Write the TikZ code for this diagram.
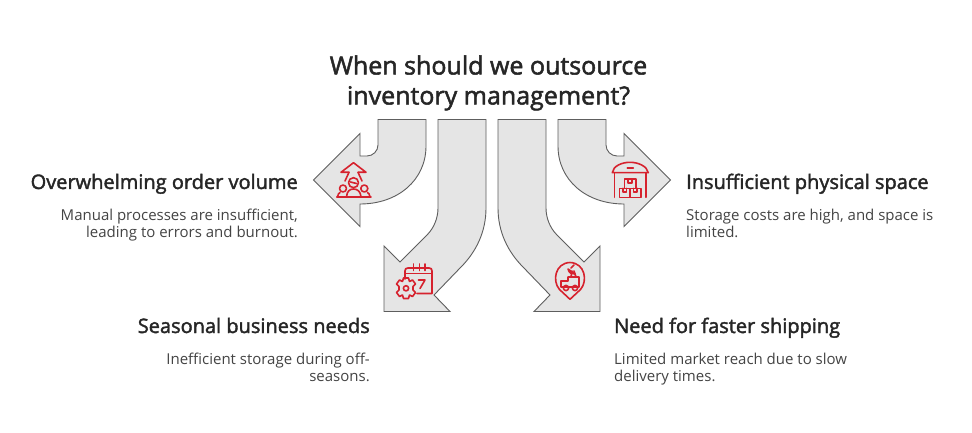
\documentclass[tikz,border=0pt]{standalone}
\usepackage{fontspec}
\setmainfont{Open Sans}
\newfontfamily\headfont[FakeBold=2]{Open Sans}
\definecolor{arrowfill}{HTML}{E5E5E5}
\definecolor{arrowline}{HTML}{5E5E5E}
\definecolor{iconred}{HTML}{D6222E}
\definecolor{headcol}{HTML}{262626}
\definecolor{bodycol}{HTML}{444444}
\tikzset{
  bigarrow/.style={fill=arrowfill,draw=arrowline,line width=0.9pt,line join=miter},
  icon/.style={draw=iconred,line width=1.6pt,line cap=round,line join=round},
  maintitle/.style={font=\headfont\fontsize{25}{30}\selectfont,text=headcol,align=center,inner sep=0pt},
  headl/.style={font=\headfont\fontsize{20}{24}\selectfont,text=headcol,inner sep=0pt,anchor=base east},
  headr/.style={font=\headfont\fontsize{20}{24}\selectfont,text=headcol,inner sep=0pt,anchor=base west},
  bodyl/.style={font=\fontsize{15}{17}\selectfont,text=bodycol,inner sep=0pt,align=right,anchor=base east},
  bodyr/.style={font=\fontsize{15}{17}\selectfont,text=bodycol,inner sep=0pt,align=left,anchor=base west},
}
\begin{document}
\begin{tikzpicture}[x=1pt,y=-1pt]
\useasboundingbox (0,0) rectangle (972,433);
\fill[white] (0,0) rectangle (972,433);
% arrows
\draw[bigarrow] (378,119.5) -- (426,119.5) -- (426,146) .. controls (426,180) and (398,204) .. (360,204) -- (360,226.5) -- (313.5,180) -- (360,133.5) -- (360,156) -- (367,156) .. controls (373,156) and (378,151) .. (378,145) -- cycle;
\draw[bigarrow] (438,119.5) -- (486,119.5) -- (486,208) .. controls (486,232) and (476,252) .. (461,267) -- (434,295) -- (450,311.5) -- (384,311.5) -- (384,246) -- (400,262) -- (427,235) .. controls (434,228) and (438,218) .. (438,208) -- cycle;
\draw[bigarrow] (546,119.5) -- (498,119.5) -- (498,208) .. controls (498,232) and (508,252) .. (523,267) -- (550,295) -- (534,311.5) -- (600,311.5) -- (600,246) -- (584,262) -- (557,235) .. controls (550,228) and (546,218) .. (546,208) -- cycle;
\draw[bigarrow] (606,119.5) -- (558,119.5) -- (558,146) .. controls (558,180) and (586,204) .. (624,204) -- (624,226.5) -- (670.5,180) -- (624,133.5) -- (624,156) -- (617,156) .. controls (611,156) and (606,151) .. (606,145) -- cycle;
% texts
\node[maintitle] (title) at (488.5,83) {When should we outsource\\inventory management?};
\node[headl] (h1) at (298,189) {Overwhelming order volume};
\node[bodyl] (b1) at (298,237) {Manual processes are insufficient,\\leading to errors and burnout.};
\node[headl] (h2) at (370,333) {Seasonal business needs};
\node[bodyl] (b2) at (370,381) {Inefficient storage during off-\\seasons.};
\node[headr] (h3) at (614,333) {Need for faster shipping};
\node[bodyr] (b3) at (614,381) {Limited market reach due to slow\\delivery times.};
\node[headr] (h4) at (686,189) {Insufficient physical space};
\node[bodyr] (b4) at (686,237) {Storage costs are high, and space is\\limited.};
% icon: people and arrow
\draw[icon] (349,172.3) -- (341,172.3) -- (353.5,162.7) -- (366,172.3) -- (358,172.3);
\draw[icon] (345,181) -- (349,172.3) (362,181) -- (358,172.3);
\draw[icon] (353.5,182.7) circle (5);
\draw[icon] (350.5,182) -- (356.5,183.5);
\draw[icon] (343,188.5) circle (3.5) (364.3,188.5) circle (3.5);
\draw[icon] (336.8,196.7) -- (371,196.7);
\draw[icon] (346.5,196.7) .. controls (347,191) and (350,189) .. (353.5,189) .. controls (357,189) and (360.5,191) .. (361,196.7);
\draw[icon] (337.5,196.7) .. controls (338,194) and (339,193) .. (340,192.5) (370,196.7) .. controls (369.5,194) and (368.5,193) .. (367.5,192.5);
% icon: calendar and gear
\draw[icon] (405,279) -- (405,271) .. controls (405,269) and (406,268) .. (408,268) -- (429,268) .. controls (431,268) and (432,269) .. (432,271) -- (432,293.5) -- (417,293.5);
\draw[icon] (405,273.5) -- (432,273.5);
\draw[icon] (413.5,264) -- (413.5,270.5) (419.3,264) -- (419.3,270.5) (425,264) -- (425,270.5);
\draw[icon] (418.3,280) -- (425,280) -- (420,288.5);
\draw[icon] (403.5,278) -- (408.5,278) -- (409.5,281.5) -- (412.5,280) -- (415.5,284) -- (413,286.5) -- (413,290) -- (415.5,292.5) -- (412.5,296.5) -- (409.5,295) -- (408.5,298.5) -- (403.5,298.5) -- (402.5,295) -- (399.5,296.5) -- (396.5,292.5) -- (399,290) -- (399,286.5) -- (396.5,284) -- (399.5,280) -- (402.5,281.5) -- cycle;
\draw[icon] (406,288.3) circle (2.6);
% icon: pin and truck
\draw[icon] (570,299.3) -- (559.5,289.5) .. controls (552,281) and (555,263) .. (570,262.5) .. controls (585,263) and (588,281) .. (580.5,289.5) -- cycle;
\draw[icon] (568,277) -- (579,277) -- (579,287) -- (561,287) -- (561,281) -- (568,281) -- (568,277);
\draw[icon] (566,288) circle (2.6) (575,288) circle (2.6);
\draw[icon] (568,269) .. controls (569,273) and (572,274.5) .. (575,274) -- (568,269);
\draw[icon] (571,268) -- (574,265) (572,271) -- (571,277) (574,271) -- (576,277);
% icon: warehouse
\draw[icon] (612.3,172.7) .. controls (613,166) and (622,162.3) .. (630,162.3) .. controls (638,162.3) and (647,166) .. (648.3,172.7) -- cycle;
\draw[icon] (614.5,172.7) -- (614.5,197.3) (646,172.7) -- (646,197.3);
\draw[icon] (627.3,168.3) -- (633.3,168.3);
\draw[icon] (624.3,179) rectangle (635.7,188.3);
\draw[icon] (619.3,188.3) rectangle (630,197.3);
\draw[icon] (630,188.3) rectangle (641,197.3);
\draw[icon] (628,179) -- (628,183) -- (632,183) -- (632,179);
\draw[icon] (623,188.3) -- (623,192) -- (626.5,192) -- (626.5,188.3);
\draw[icon] (633.5,188.3) -- (633.5,192) -- (637,192) -- (637,188.3);
\end{tikzpicture}
\end{document}
